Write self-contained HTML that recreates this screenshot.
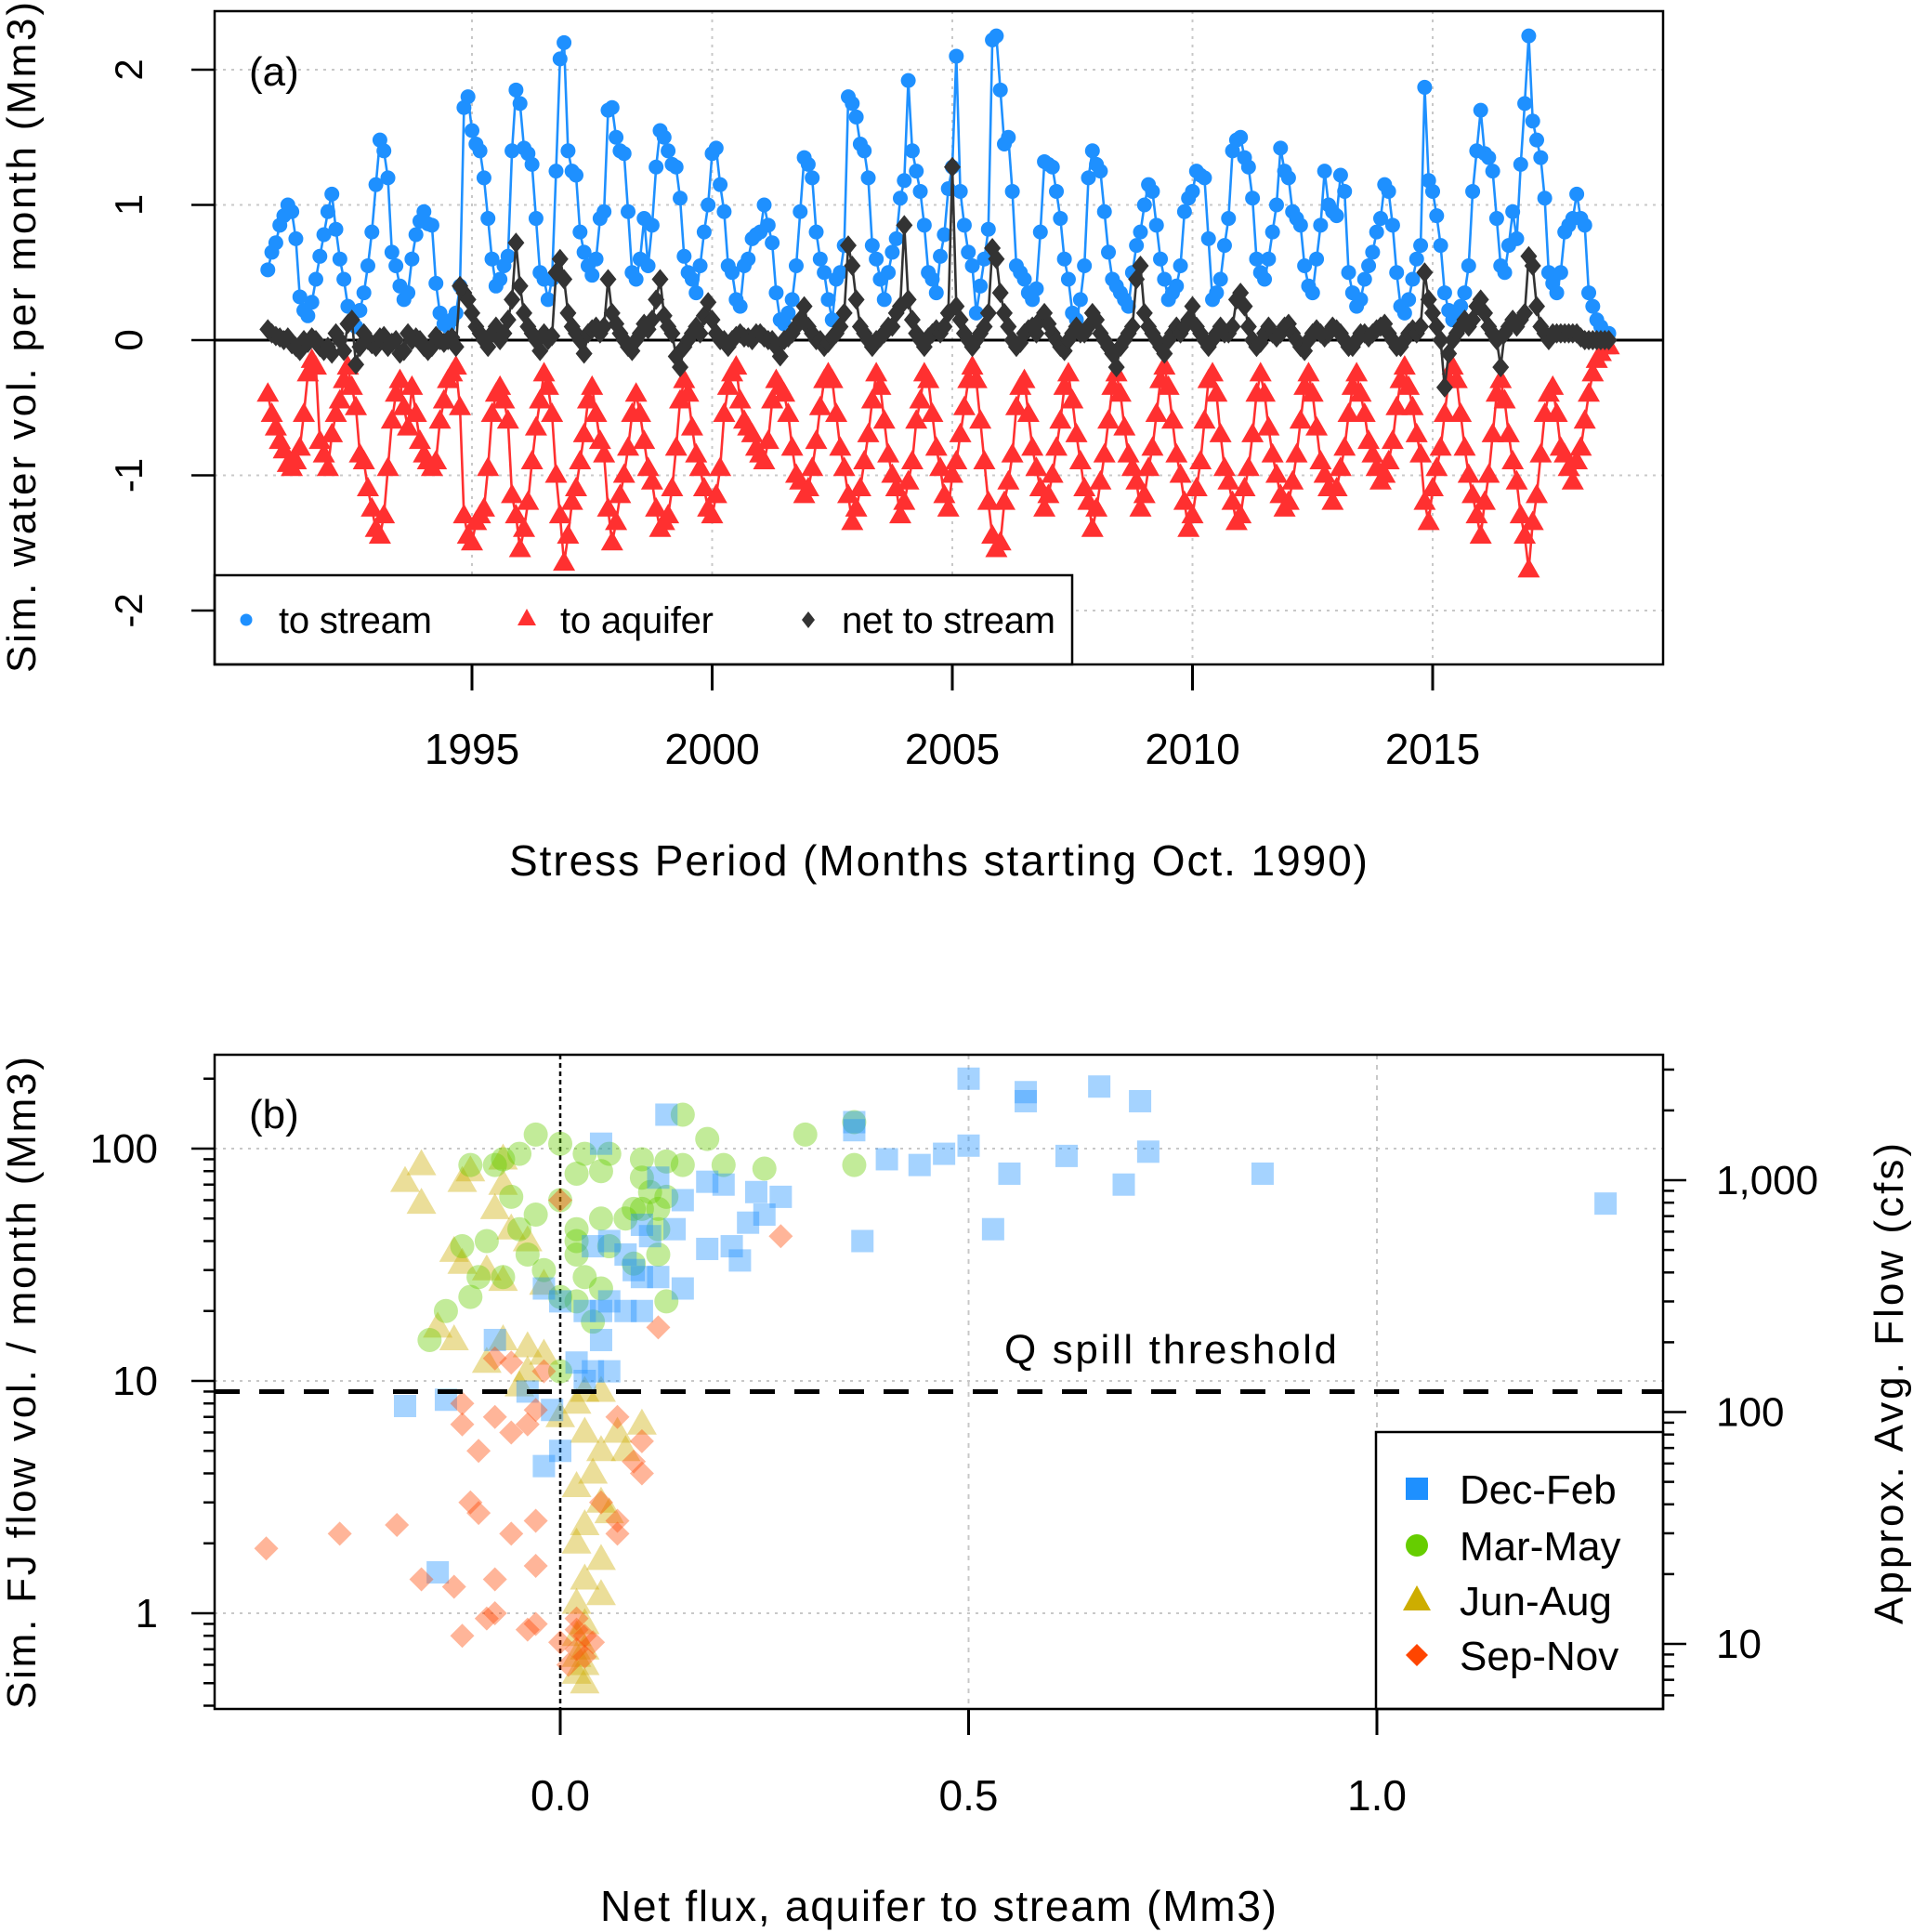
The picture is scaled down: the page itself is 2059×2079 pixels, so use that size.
<!DOCTYPE html>
<html><head><meta charset="utf-8"><style>
html,body{margin:0;padding:0;background:#fff}
svg{display:block;font-family:"Liberation Sans",Arial,sans-serif}
</style></head><body>
<svg id="fig" width="2059" height="2079" viewBox="0 0 2059 2079" xmlns="http://www.w3.org/2000/svg">
<rect width="2059" height="2079" fill="#fff"/>
<g id="pa"></g>
<g id="pb"></g>
</svg>
<script>
// ---------- Panel (a) data: monthly values Oct 1990 .. Sep 2018 ----------
const startYear = 1990.75;
const yTicksA = [2, 1, 0, -1, -2];
const yTickLabelsA = ["2", "1", "0", "-1", "-2"];
const xTicksA = [1995, 2000, 2005, 2010, 2015];
const xTickLabelsA = ["1995", "2000", "2005", "2010", "2015"];
const toStream = [
.52,.65,.72,.85,.92,1.0,.95,.75,.32,.22,.18,.28,
.45,.62,.78,.95,1.08,.82,.60,.45,.25,.12,.10,.22,
.35,.55,.80,1.15,1.48,1.40,1.20,.65,.55,.40,.30,.35,
.60,.78,.88,.95,.86,.85,.42,.20,.12,.10,.15,.20,
.40,1.72,1.80,1.55,1.45,1.40,1.20,.90,.60,.40,.45,.55,
.62,1.40,1.85,1.75,1.42,1.38,1.30,.90,.50,.45,.30,.45,
1.25,2.08,2.20,1.40,1.25,1.22,.80,.65,.55,.48,.60,.90,
.95,1.70,1.72,1.50,1.40,1.38,.95,.50,.45,.60,.90,.55,
.85,1.28,1.55,1.50,1.40,1.30,1.28,1.05,.62,.50,.45,.35,
.55,.80,1.00,1.38,1.42,1.15,.95,.55,.50,.30,.25,.55,
.60,.75,.78,.80,1.00,.85,.72,.35,.15,.12,.20,.30,
.55,.95,1.35,1.30,1.20,.80,.60,.50,.30,.15,.45,.50,
.70,1.80,1.75,1.65,1.45,1.40,1.20,.70,.60,.45,.30,.50,
.65,.75,1.05,1.18,1.92,1.40,1.25,1.10,.85,.50,.45,.35,
.62,.78,1.12,1.28,2.10,1.10,.85,.65,.55,.20,.40,.60,
.82,2.22,2.25,1.85,1.45,1.50,1.10,.55,.50,.45,.35,.30,
.38,.80,1.32,1.30,1.28,1.10,.90,.60,.45,.20,.15,.30,
.55,1.20,1.40,1.30,1.25,.95,.65,.45,.40,.35,.30,.25,
.50,.70,.80,1.00,1.15,1.10,.85,.60,.45,.30,.35,.40,
.55,.95,1.05,1.10,1.25,1.22,1.20,.75,.30,.35,.45,.70,
.90,1.40,1.48,1.50,1.35,1.28,1.05,.60,.50,.45,.60,.80,
1.00,1.42,1.25,1.20,.95,.90,.85,.55,.40,.35,.60,.85,
1.25,1.00,.95,.92,1.22,1.10,.50,.35,.25,.30,.45,.55,
.65,.80,.90,1.15,1.10,.85,.50,.25,.20,.30,.45,.60,
.70,1.87,1.18,1.10,.92,.70,.35,.22,.15,.20,.25,.35,
.55,1.10,1.40,1.70,1.38,1.35,1.25,.90,.55,.50,.70,.95,
.75,1.30,1.75,2.25,1.62,1.48,1.35,1.05,.50,.42,.35,.50,
.80,.85,.90,1.08,.90,.85,.35,.25,.15,.10,.05,.05];
const toAquifer = [
-.40,-.55,-.65,-.75,-.82,-.92,-.95,-.90,-.80,-.55,-.25,-.15,
-.20,-.75,-.85,-.95,-.70,-.55,-.45,-.30,-.20,-.35,-.50,-.85,
-.90,-1.10,-1.25,-1.40,-1.45,-1.30,-.95,-.60,-.40,-.30,-.50,-.65,
-.35,-.55,-.75,-.85,-.90,-.95,-.90,-.60,-.45,-.30,-.25,-.20,
-.50,-1.30,-1.45,-1.50,-1.35,-1.30,-1.25,-.95,-.55,-.40,-.35,-.45,
-.60,-1.15,-1.30,-1.55,-1.40,-1.20,-.90,-.65,-.45,-.25,-.35,-.55,
-1.00,-1.30,-1.65,-1.45,-1.20,-1.10,-.90,-.70,-.45,-.35,-.55,-.75,
-.85,-1.25,-1.50,-1.35,-1.15,-1.00,-.80,-.55,-.40,-.55,-.75,-.95,
-1.05,-1.25,-1.40,-1.35,-1.30,-1.10,-.80,-.45,-.30,-.40,-.65,-.85,
-.95,-1.10,-1.25,-1.30,-1.15,-.95,-.55,-.35,-.25,-.20,-.45,-.60,
-.65,-.70,-.80,-.85,-.90,-.75,-.45,-.30,-.35,-.40,-.55,-.80,
-1.00,-1.05,-1.15,-1.10,-.95,-.75,-.50,-.30,-.25,-.30,-.55,-.80,
-.95,-1.15,-1.35,-1.25,-1.10,-.90,-.70,-.45,-.25,-.35,-.60,-.85,
-1.00,-1.10,-1.30,-1.20,-1.05,-.90,-.60,-.45,-.25,-.30,-.55,-.80,
-.95,-1.15,-1.25,-1.00,-.90,-.70,-.50,-.30,-.20,-.30,-.60,-.90,
-1.20,-1.45,-1.55,-1.50,-1.20,-1.05,-.85,-.50,-.35,-.30,-.55,-.80,
-.95,-1.10,-1.25,-1.15,-1.00,-.80,-.60,-.35,-.25,-.45,-.70,-.90,
-1.10,-1.20,-1.40,-1.25,-1.05,-.85,-.60,-.35,-.25,-.40,-.65,-.85,
-.95,-1.05,-1.25,-1.15,-.95,-.80,-.55,-.30,-.20,-.35,-.60,-.85,
-1.00,-1.20,-1.40,-1.30,-1.10,-.90,-.60,-.30,-.25,-.40,-.70,-.95,
-1.05,-1.20,-1.35,-1.30,-1.10,-.95,-.70,-.40,-.25,-.40,-.65,-.85,
-1.00,-1.15,-1.25,-1.20,-1.05,-.85,-.60,-.35,-.25,-.40,-.65,-.90,
-1.00,-1.10,-1.20,-1.10,-.95,-.80,-.55,-.35,-.25,-.40,-.55,-.75,
-.85,-.95,-1.05,-1.00,-.90,-.75,-.50,-.30,-.20,-.35,-.50,-.70,
-.85,-1.20,-1.35,-1.10,-.95,-.80,-.55,-.30,-.20,-.30,-.55,-.80,
-1.00,-1.15,-1.30,-1.45,-1.20,-1.00,-.70,-.40,-.30,-.45,-.70,-.90,
-1.05,-1.30,-1.45,-1.70,-1.35,-1.15,-.85,-.55,-.40,-.35,-.55,-.80,
-.85,-.95,-1.05,-.90,-.80,-.60,-.40,-.25,-.15,-.10,-.05,-.05];
const netToStream = [
.08,.05,.03,.02,.00,.02,-.03,-.05,-.08,.00,-.02,.02,
.00,-.05,-.08,-.05,-.10,.05,.00,-.08,.12,.15,-.18,-.05,
.05,.00,-.03,-.05,.02,.03,-.05,-.02,.00,-.10,-.08,.05,
.00,.02,.00,-.05,-.08,-.05,.03,.00,-.02,.00,.02,-.05,
.40,.35,.30,.20,.10,.05,.00,-.05,.05,.10,.00,.05,
.15,.30,.72,.40,.20,.10,.05,.00,-.08,.05,.00,.03,
.50,.60,.45,.20,.10,.05,.00,-.10,.05,.08,.10,.05,
.10,.45,.20,.12,.05,.00,-.05,-.08,.00,.05,.12,.08,
.15,.30,.45,.18,.10,.05,-.12,-.20,-.05,.00,.05,.10,
.05,.18,.28,.15,.05,.00,.00,-.05,.00,.03,.05,.02,
.02,.00,.05,.05,.02,.00,.00,-.05,-.12,.00,.02,.05,
.10,.15,.25,.10,.05,.00,.00,-.05,-.02,.02,.05,.10,
.20,.70,.55,.30,.10,.05,.00,-.05,.00,.02,.05,.10,
.10,.20,.25,.85,.30,.15,.05,.00,-.05,.02,.05,.08,
.05,.10,.20,1.28,.25,.15,.05,.00,-.05,.00,.05,.10,
.20,.68,.60,.35,.20,.10,.00,-.05,-.02,.05,.08,.10,
.05,.15,.20,.12,.05,.00,-.05,-.08,.00,.05,.10,.05,
.05,.10,.20,.15,.05,.00,-.05,-.10,-.20,-.05,.00,.05,
.10,.45,.55,.20,.10,.05,.00,-.05,-.10,.00,.05,.10,
.05,.10,.15,.25,.10,.05,.00,-.05,.00,.05,.10,.05,
.05,.10,.30,.35,.25,.10,.00,-.05,-.02,.05,.10,.05,
.02,.05,.10,.12,.05,.00,-.05,-.08,.00,.05,.08,.05,
.02,.05,.10,.08,.05,.00,-.05,-.05,.00,.05,.05,.02,
.05,.08,.10,.12,.05,.00,-.05,-.05,.00,.05,.08,.05,
.10,.50,.30,.20,.10,.00,-.35,-.10,.00,.05,.10,.15,
.10,.15,.25,.30,.20,.10,.05,.00,-.20,.05,.10,.15,
.10,.15,.20,.62,.55,.25,.10,.05,.00,.05,.05,.05,
.05,.05,.05,.05,.02,.00,.00,.00,.00,.00,.00,.00];

// ---------- Panel (b) data ----------
const xTicksB = [0, 0.5, 1.0];
const xTickLabelsB = ["0.0", "0.5", "1.0"];
const yTicksB = [1, 10, 100];
const yTickLabelsB = ["1", "10", "100"];
const yTicksRight = [10, 100, 1000];
const yTickLabelsRight = ["10", "100", "1,000"];
const qSpill = 9.0;
const decFebX = [0.50,0.57,0.57,0.66,0.71,0.36,0.36,0.13,0.05,0.50,0.62,0.72,0.40,0.44,0.47,0.86,0.55,0.69,1.28,0.27,0.24,0.20,0.18,0.15,0.25,0.23,0.14,0.11,0.21,0.18,0.37,0.53,0.22,0.06,0.04,0.08,0.09,0.10,0.12,0.15,0.06,0.08,0.03,0.05,0.00,-0.02,0.10,0.05,-0.08,0.02,0.04,0.06,0.03,-0.04,-0.19,-0.14,-0.01,0.00,-0.02,-0.15,0.10,0.12];
const decFebY = [200,175,160,185,160,130,120,140,105,103,93,97,90,85,95,78,78,70,58,62,65,70,72,60,52,48,45,42,38,37,40,45,33,40,38,35,30,28,28,25,22,20,20,20,22,25,20,15,15,12,11,11,10,9,7.8,8.3,7.5,5,4.3,1.5,47,75];
const marMayX = [-0.03,0.00,-0.05,0.03,0.06,-0.11,-0.07,-0.08,0.10,0.13,0.15,0.20,0.25,0.30,0.36,0.36,0.18,0.15,0.02,0.05,0.10,0.11,0.13,0.09,0.05,0.08,-0.06,0.00,-0.03,0.02,-0.09,-0.05,-0.12,0.02,0.12,0.12,0.06,-0.10,-0.07,-0.02,0.03,0.05,-0.11,0.00,0.02,0.13,-0.14,-0.16,0.04,0.09,-0.04,0.02,0.10,0.12,0.00];
const marMayY = [115,105,95,95,95,85,90,85,90,88,85,85,82,115,130,85,110,140,78,80,75,65,62,55,50,50,62,60,52,45,40,45,38,40,45,55,38,28,28,30,28,25,23,23,22,22,20,15,18,32,35,35,55,35,11];
const junAugX = [-0.17,-0.19,-0.17,-0.11,-0.12,-0.07,-0.07,-0.08,-0.06,-0.04,-0.13,-0.12,-0.09,-0.07,-0.02,-0.15,-0.13,-0.07,-0.04,-0.02,-0.09,-0.04,-0.05,0.03,0.05,0.02,0.00,0.07,0.10,0.03,0.05,0.08,0.04,0.02,0.05,0.06,0.03,0.02,0.05,0.03,0.05,0.02,0.03,0.02,0.03,0.02,0.03,0.02,0.03];
const junAugY = [85,72,58,80,72,90,70,55,45,40,36,32,30,27,26,17,15,15,14,13,12,11,9.5,9,9,8,7,6,6.5,6,5,5,4,3.5,3,2.7,2.4,2,1.7,1.4,1.2,1.1,0.9,0.8,0.7,0.65,0.6,0.55,0.5];
const sepNovX = [0.27,0.12,0.00,-0.06,-0.02,-0.08,-0.12,-0.08,-0.06,-0.12,-0.10,-0.03,-0.04,0.07,0.10,0.09,0.10,-0.11,-0.10,-0.06,-0.03,0.05,0.07,0.07,-0.36,-0.27,-0.20,-0.17,-0.13,-0.08,-0.03,-0.08,-0.09,-0.12,-0.04,-0.03,0.00,0.02,0.03,0.02,0.03,0.01,0.02,0.04];
const sepNovY = [42,17,60,12,11,12.5,8,7,6,6.5,5,7.5,6.5,7,5.5,4.5,4,3,2.7,2.2,2.5,3,2.5,2.2,1.9,2.2,2.4,1.4,1.3,1.4,1.6,1.0,0.95,0.8,0.85,0.9,0.75,0.95,0.8,0.7,0.65,0.6,0.85,0.75];

const NS = "http://www.w3.org/2000/svg";
function mk(parent, tag, attrs, text) {
  const e = document.createElementNS(NS, tag);
  for (const k in attrs) e.setAttribute(k, attrs[k]);
  if (text !== undefined) e.textContent = text;
  parent.appendChild(e);
  return e;
}

// ===== Panel (a) =====
const pa = document.getElementById('pa');
const A = {l:231, r:1790, t:12, b:715};
const xA = yr => 508 + (yr - 1995) * 51.7;
const yA = v => 366 - v * 145.5;

yTicksA.forEach(v => {
  if (v === 0) return;
  const g = mk(pa, 'line', {x1:A.l, x2:A.r, y1:yA(v), y2:yA(v), stroke:'#c8c8c8', 'stroke-width':2, 'stroke-dasharray':'3,6'});
  
  
});
xTicksA.forEach(v => {
  const g = mk(pa, 'line', {x1:xA(v), x2:xA(v), y1:A.t, y2:A.b, stroke:'#c8c8c8', 'stroke-width':2, 'stroke-dasharray':'3,6'});
  
  
});
const zl = mk(pa, 'line', {x1:A.l, x2:A.r, y1:yA(0), y2:yA(0), stroke:'#000', 'stroke-width':3});



const xs = toStream.map((_, i) => xA(startYear + i / 12));
function series(vals, color, name) {
  const g = mk(pa, 'g', {});
  
  
  mk(g, 'polyline', {points: vals.map((v, i) => xs[i].toFixed(1) + ',' + yA(v).toFixed(1)).join(' '), fill:'none', stroke:color, 'stroke-width':2.6});
  return g;
}
const gS = series(toStream, '#1E90FF', 'series-to-stream');
toStream.forEach((v, i) => {
  const c = mk(gS, 'circle', {cx:xs[i], cy:yA(v), r:8, fill:'#1E90FF'});
  
  
});
const gQ = series(toAquifer, '#FF3030', 'series-to-aquifer');
toAquifer.forEach((v, i) => {
  const x = xs[i], y = yA(v);
  const p = mk(gQ, 'polygon', {points:`${x},${y-13} ${x-12},${y+8} ${x+12},${y+8}`, fill:'#FF3030'});
  
  
});
const gN = series(netToStream, '#333', 'series-net-to-stream');
netToStream.forEach((v, i) => {
  const x = xs[i], y = yA(v);
  const p = mk(gN, 'polygon', {points:`${x},${y-11} ${x+9},${y} ${x},${y+11} ${x-9},${y}`, fill:'#333'});
  
  
});

const lgA = mk(pa, 'g', {});


mk(lgA, 'rect', {x:A.l, y:619, width:923, height:96, fill:'#fff', stroke:'#000', 'stroke-width':2.5});
mk(lgA, 'circle', {cx:265, cy:667, r:6.5, fill:'#1E90FF'});
const l1 = mk(lgA, 'text', {x:300, y:681, 'font-size':40, textLength:165}, 'to stream');


mk(lgA, 'polygon', {points:'567,655 557,673 577,673', fill:'#FF3030'});
const l2 = mk(lgA, 'text', {x:603, y:681, 'font-size':40, textLength:165}, 'to aquifer');


mk(lgA, 'polygon', {points:'870,658 877,667 870,676 863,667', fill:'#333'});
const l3 = mk(lgA, 'text', {x:906, y:681, 'font-size':40, textLength:230}, 'net to stream');



const boxA = mk(pa, 'rect', {x:A.l, y:A.t, width:A.r-A.l, height:A.b-A.t, fill:'none', stroke:'#000', 'stroke-width':2.5});



yTicksA.forEach((v, i) => {
  mk(pa, 'line', {x1:A.l-25, x2:A.l, y1:yA(v), y2:yA(v), stroke:'#000', 'stroke-width':2.5});
  const t = mk(pa, 'text', {x:0, y:0, 'font-size':42, 'text-anchor':'middle', transform:`translate(153,${yA(v)}) rotate(-90)`}, yTickLabelsA[i]);
  
  
});
xTicksA.forEach((v, i) => {
  mk(pa, 'line', {x1:xA(v), x2:xA(v), y1:A.b, y2:A.b+28, stroke:'#000', 'stroke-width':3});
  const t = mk(pa, 'text', {x:xA(v), y:822, 'font-size':46, 'text-anchor':'middle'}, xTickLabelsA[i]);
  
  
});
const xtA = mk(pa, 'text', {x:1010, y:942, 'font-size':46, 'text-anchor':'middle', textLength:924}, 'Stress Period (Months starting Oct. 1990)');


const ytA = mk(pa, 'text', {x:0, y:0, 'font-size':44, 'text-anchor':'middle', textLength:722, transform:'translate(38,363) rotate(-90)'}, 'Sim. water vol. per month (Mm3)');


const pla = mk(pa, 'text', {x:268, y:92, 'font-size':44}, '(a)');



// ===== Panel (b) =====
const pb = document.getElementById('pb');
const B = {l:231, r:1790, t:1135, b:1839};
const xB = v => 603 + v * 879;
const yB = v => 1736 - Math.log10(v) * 250;
const yR = cfs => 1769 - (Math.log10(cfs) - 1) * 249.5;

yTicksB.forEach(v => {
  const g = mk(pb, 'line', {x1:B.l, x2:B.r, y1:yB(v), y2:yB(v), stroke:'#c8c8c8', 'stroke-width':2, 'stroke-dasharray':'3,6'});
  
  
});
[0.5, 1.0].forEach(v => {
  const g = mk(pb, 'line', {x1:xB(v), x2:xB(v), y1:B.t, y2:B.b, stroke:'#c8c8c8', 'stroke-width':2, 'stroke-dasharray':'5,6'});
  
  
});
const zv = mk(pb, 'line', {x1:xB(0), x2:xB(0), y1:B.t, y2:B.b, stroke:'#000', 'stroke-width':2.5, 'stroke-dasharray':'5,4'});



function scatter(X, Y, name, draw) {
  const g = mk(pb, 'g', {});
  
  
  X.forEach((xv, i) => {
    const el = draw(g, xB(xv), yB(Y[i]));
    
    
  });
}
scatter(junAugX, junAugY, 'series-jun-aug', (g, x, y) => mk(g, 'polygon', {points:`${x},${y-17} ${x-16},${y+11} ${x+16},${y+11}`, fill:'rgba(205,173,0,0.4)'}));
scatter(marMayX, marMayY, 'series-mar-may', (g, x, y) => mk(g, 'circle', {cx:x, cy:y, r:13, fill:'rgba(102,205,0,0.4)'}));
scatter(decFebX, decFebY, 'series-dec-feb', (g, x, y) => mk(g, 'rect', {x:x-12, y:y-12, width:24, height:24, fill:'rgba(30,144,255,0.4)'}));
scatter(sepNovX, sepNovY, 'series-sep-nov', (g, x, y) => mk(g, 'polygon', {points:`${x},${y-13} ${x+13},${y} ${x},${y+13} ${x-13},${y}`, fill:'rgba(255,69,0,0.4)'}));

const th = mk(pb, 'line', {x1:B.l, x2:B.r, y1:yB(qSpill), y2:yB(qSpill), stroke:'#000', 'stroke-width':5, 'stroke-dasharray':'27,21'});


const tht = mk(pb, 'text', {x:1081, y:1467, 'font-size':44, textLength:358}, 'Q spill threshold');



const lgB = mk(pb, 'g', {});


mk(lgB, 'rect', {x:1481, y:1541, width:309, height:298, fill:'#fff', stroke:'#000', 'stroke-width':2.5});
const legNames = ['Dec-Feb', 'Mar-May', 'Jun-Aug', 'Sep-Nov'];
const legY = [1602, 1663, 1722, 1781];
mk(lgB, 'rect', {x:1513, y:1590, width:24, height:24, fill:'#1E90FF'});
mk(lgB, 'circle', {cx:1525, cy:1663, r:12, fill:'#66CD00'});
mk(lgB, 'polygon', {points:'1525,1706 1510,1733 1540,1733', fill:'#CDAD00'});
mk(lgB, 'polygon', {points:'1525,1769 1537,1781 1525,1793 1513,1781', fill:'#FF4500'});
legNames.forEach((n, i) => {
  const t = mk(lgB, 'text', {x:1571, y:legY[i] + 16, 'font-size':44}, n);
  
  
});

const boxB = mk(pb, 'rect', {x:B.l, y:B.t, width:B.r-B.l, height:B.b-B.t, fill:'none', stroke:'#000', 'stroke-width':2.5});



for (let d = -1; d <= 2; d++) {
  for (let m = 1; m <= 9; m++) {
    const v = m * Math.pow(10, d);
    const y = yB(v);
    if (y < B.t || y > B.b) continue;
    mk(pb, 'line', {x1:B.l - (m === 1 ? 25 : 12), x2:B.l, y1:y, y2:y, stroke:'#000', 'stroke-width':2.5});
  }
}
yTicksB.forEach((v, i) => {
  const t = mk(pb, 'text', {x:170, y:yB(v) + 15, 'font-size':44, 'text-anchor':'end'}, yTickLabelsB[i]);
  
  
});
for (let d = 0; d <= 3; d++) {
  for (let m = 1; m <= 9; m++) {
    const v = m * Math.pow(10, d);
    const y = yR(v);
    if (y < B.t || y > B.b) continue;
    mk(pb, 'line', {x1:B.r, x2:B.r + (m === 1 ? 25 : 12), y1:y, y2:y, stroke:'#000', 'stroke-width':2.5});
  }
}
yTicksRight.forEach((v, i) => {
  const t = mk(pb, 'text', {x:1847, y:yR(v) + 15, 'font-size':44}, yTickLabelsRight[i]);
  
  
});
xTicksB.forEach((v, i) => {
  mk(pb, 'line', {x1:xB(v), x2:xB(v), y1:B.b, y2:B.b + 28, stroke:'#000', 'stroke-width':3});
  const t = mk(pb, 'text', {x:xB(v), y:1948, 'font-size':46, 'text-anchor':'middle'}, xTickLabelsB[i]);
  
  
});
const xtB = mk(pb, 'text', {x:1010, y:2067, 'font-size':46, 'text-anchor':'middle', textLength:728}, 'Net flux, aquifer to stream (Mm3)');


const ytB = mk(pb, 'text', {x:0, y:0, 'font-size':44, 'text-anchor':'middle', textLength:702, transform:'translate(38,1488) rotate(-90)'}, 'Sim. FJ flow vol. / month (Mm3)');


const ytR = mk(pb, 'text', {x:0, y:0, 'font-size':44, 'text-anchor':'middle', textLength:518, transform:'translate(2048,1489) rotate(-90)'}, 'Approx. Avg. Flow (cfs)');


const plb = mk(pb, 'text', {x:268, y:1214, 'font-size':44}, '(b)');


</script>
</body></html>
